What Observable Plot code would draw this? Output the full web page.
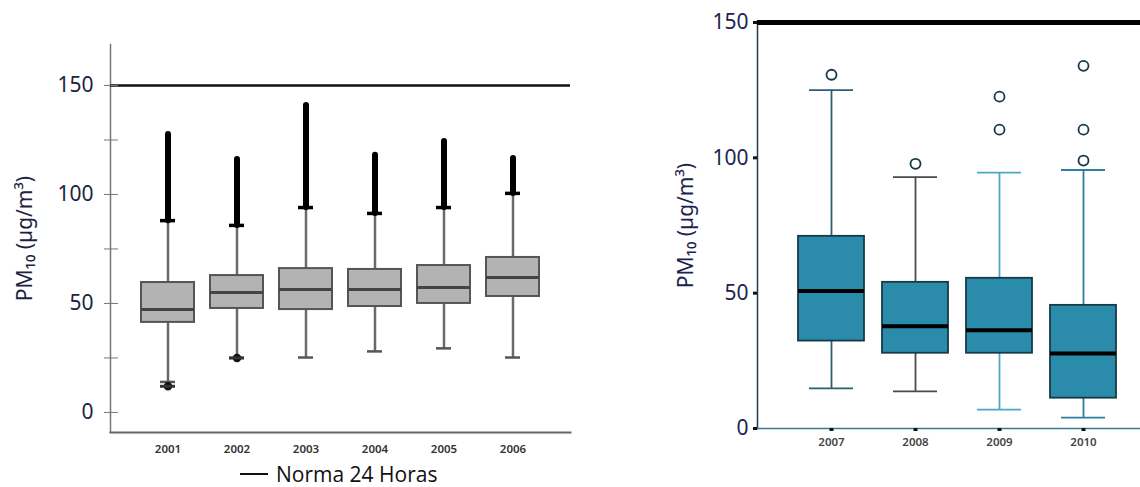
<!DOCTYPE html>
<html><head><meta charset="utf-8">
<script src="https://cdn.jsdelivr.net/npm/d3@7"></script>
<script src="https://cdn.jsdelivr.net/npm/@observablehq/plot@0.6"></script>
<style>
body{margin:0;background:#fff;font-family:"Noto Sans",sans-serif;}
#wrap{position:relative;width:1140px;height:487px;overflow:hidden;background:#fff;}
#left{position:absolute;left:0;top:0;}
#right{position:absolute;left:640px;top:0;}
#legend{position:absolute;left:240px;top:462px;height:24px;line-height:24px;font-size:21px;color:#111;display:flex;align-items:center;font-family:"Open Sans",sans-serif;white-space:nowrap;}
#legend .sw{display:inline-block;width:28px;height:2.5px;background:#111;margin-right:8px;}
</style></head><body>
<div id="wrap"><div id="left"></div><div id="right"></div>
<div id="legend"><span class="sw"></span>Norma 24 Horas</div></div>
<script>
// ---- Left panel (2001-2006) ----
const yearsA = ["2001","2002","2003","2004","2005","2006"];
const loA  = [14, 25, 25.2, 28, 29.4, 25.2];
const q1A  = [41.3, 47.7, 47.2, 48.6, 50, 53.2];
const medA = [47.2, 55, 56.4, 56.4, 57.3, 61.9];
const q3A  = [59.6, 62.8, 66, 65.6, 67.4, 71.1];
const hiA  = [88, 85.8, 94, 91.3, 94, 100.5];
const maxA = [127.5, 116, 140.8, 118, 124.3, 116.5];
const lowOutYearsA = ["2001", "2002"];
const lowOutValsA  = [12, 25];
const norma = 150;

// ---- Right panel (2007-2010) ----
const yearsB = ["2007","2008","2009","2010"];
const loB  = [14.8, 13.7, 7, 4];
const q1B  = [32.3, 27.8, 27.8, 11.2];
const medB = [50.8, 37.8, 36.3, 27.7];
const q3B  = [71, 54, 55.5, 45.5];
const hiB  = [125, 92.9, 94.5, 95.5];
const outYearsB = ["2007","2008","2009","2009","2010","2010","2010"];
const outValsB  = [130.7, 97.8, 122.6, 110.4, 134, 110.4, 99];

const yLabel = "PM₁₀ (µg/m³)";

const A = yearsA.map((y,i)=>({year:y, lo:loA[i], q1:q1A[i], med:medA[i], q3:q3A[i], hi:hiA[i], max:maxA[i]}));
const Alow = lowOutYearsA.map((y,i)=>({year:y, v:lowOutValsA[i]}));
const B = yearsB.map((y,i)=>({year:y, lo:loB[i], q1:q1B[i], med:medB[i], q3:q3B[i], hi:hiB[i]}));
const Bout = outYearsB.map((y,i)=>({year:y, v:outValsB[i]}));

const yMinA = -9.2, yMaxA = 168.8;
const left = Plot.plot({
  width: 580, height: 462,
  marginLeft: 110, marginRight: 10, marginTop: 44, marginBottom: 30,
  style: {fontFamily: "'Noto Sans', sans-serif", background: "transparent"},
  x: {domain: yearsA, range: [140.5, 539.5], paddingInner: 0.234, paddingOuter: 0},
  y: {domain: [yMinA, yMaxA]},
  marks: [
    Plot.frame({anchor: "left", stroke: "#777", strokeWidth: 1.5}),
    Plot.frame({anchor: "bottom", stroke: "#666", strokeWidth: 2}),
    Plot.ruleY([norma], {stroke: "#111", strokeWidth: 2.5}),
    Plot.axisY({ticks: [0,25,50,75,100,125,150], tickFormat: d => d % 50 === 0 ? d : "",
      tickSize: 14, dx: 8, tickPadding: 11, fontSize: 21, color: "#1c2340", stroke: "#777",
      label: yLabel, labelAnchor: "center", labelOffset: 93, labelArrow: "none"}),
    Plot.axisX({tickSize: 0, tickPadding: 12, fontSize: 11.5, fontWeight: "600", color: "#333", label: null}),
    Plot.ruleX(A, {x: "year", y1: "lo", y2: "hi", stroke: "#6a6a6a", strokeWidth: 2.5}),
    Plot.tickY(A, {x: "year", y: "lo", stroke: "#555", strokeWidth: 2.5, insetLeft: 19, insetRight: 19}),
    Plot.ruleX(A, {x: "year", y1: "hi", y2: "max", stroke: "#000", strokeWidth: 6, strokeLinecap: "round"}),
    Plot.tickY(A, {x: "year", y: "hi", stroke: "#000", strokeWidth: 3.5, insetLeft: 19, insetRight: 19}),
    Plot.dot(Alow, {x: "year", y: "v", r: 3.5, fill: "#111", stroke: "#111"}),
    Plot.tickY(Alow, {x: "year", y: "v", stroke: "#333", strokeWidth: 3, insetLeft: 19, insetRight: 19}),
    Plot.barY(A, {x: "year", y1: "q1", y2: "q3", fill: "#b3b3b3", stroke: "#555", strokeWidth: 2}),
    Plot.tickY(A, {x: "year", y: "med", stroke: "#444", strokeWidth: 3})
  ]
});
document.getElementById("left").appendChild(left);

const whiskerColors = ["#2b5f73", "#4a4a4a", "#4fa6c6", "#2d7fa0"];
const right = Plot.plot({
  width: 500, height: 465,
  marginLeft: 117, marginRight: 0, marginTop: 22, marginBottom: 37,
  style: {fontFamily: "'Noto Sans', sans-serif", background: "transparent"},
  x: {domain: yearsB, range: [157, 477], paddingInner: 0.22, paddingOuter: 0},
  y: {domain: [0, 150]},
  color: {type: "ordinal", domain: yearsB, range: whiskerColors},
  marks: [
    Plot.frame({anchor: "left", stroke: "#1d3f4f", strokeWidth: 1.5}),
    Plot.frame({anchor: "bottom", stroke: "#3a7a92", strokeWidth: 1.5}),
    Plot.ruleY([norma], {stroke: "#000", strokeWidth: 5}),
    Plot.axisY({ticks: [0,50,100,150], tickSize: 4, strokeWidth: 3, stroke: "#111", tickPadding: 5,
      fontSize: 21, color: "#1c2350",
      label: yLabel, labelAnchor: "center", labelOffset: 79, labelArrow: "none"}),
    Plot.axisX({tickSize: 3, strokeWidth: 4, stroke: "#111", tickPadding: 6, fontSize: 11.5, fontWeight: "600", color: "#444", label: null}),
    Plot.ruleX(B, {x: "year", y1: "lo", y2: "hi", stroke: "year", strokeWidth: 1.8}),
    Plot.tickY(B, {x: "year", y: "lo", stroke: "year", strokeWidth: 1.8, insetLeft: 11, insetRight: 11}),
    Plot.tickY(B, {x: "year", y: "hi", stroke: "year", strokeWidth: 1.8, insetLeft: 11, insetRight: 11}),
    Plot.barY(B, {x: "year", y1: "q1", y2: "q3", fill: "#2a8bab", stroke: "#173a48", strokeWidth: 1.8}),
    Plot.tickY(B, {x: "year", y: "med", stroke: "#000", strokeWidth: 4}),
    Plot.dot(Bout, {x: "year", y: "v", r: 5, fill: "#fff", stroke: "#163848", strokeWidth: 1.8})
  ]
});
document.getElementById("right").appendChild(right);
</script>
</body></html>
